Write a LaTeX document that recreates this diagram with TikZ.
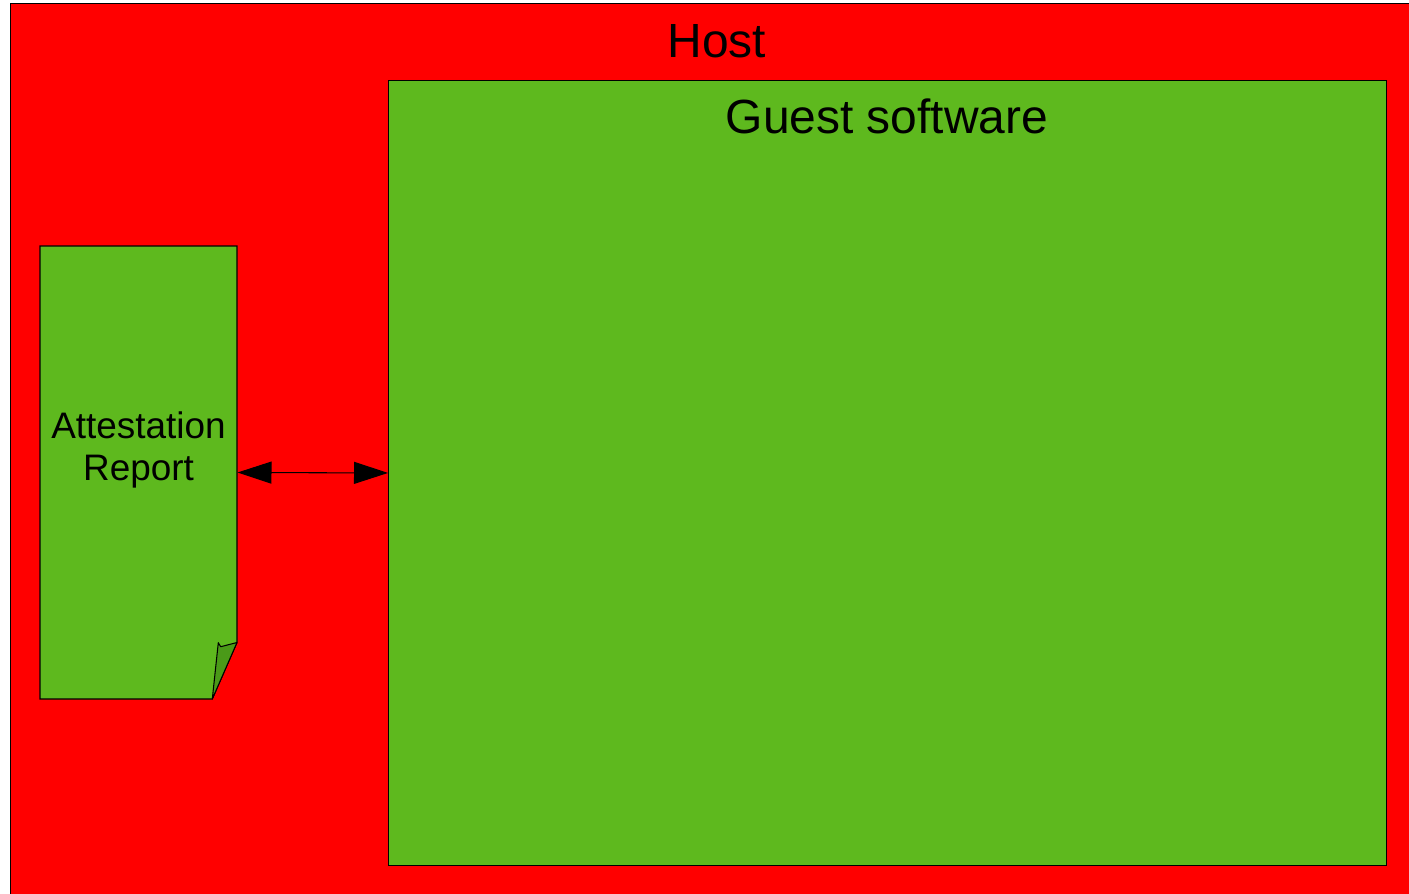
\documentclass[tikz,border=0pt]{standalone}
\usepackage{fontspec}
\setmainfont{Liberation Sans}
\usetikzlibrary{positioning,arrows.meta}

\definecolor{hostred}{HTML}{FF0000}
\definecolor{guestgreen}{HTML}{5EB91E}
\definecolor{flapgreen}{HTML}{4A9A18}

\begin{document}
\begin{tikzpicture}[x=0.02cm,y=-0.02cm,line width=0.6pt,
        box/.style={draw=black, inner sep=0pt, anchor=north west},
        title/.style={font=\fontsize{27.3}{32}\selectfont, inner sep=0pt},
        both/.style={{Triangle[length=0.68cm,width=0.44cm]}-{Triangle[length=0.68cm,width=0.44cm]}, line width=0.6pt}
        ]
        \useasboundingbox (0,0) rectangle (1409,893);
        \clip (0,0) rectangle (1409,893);

        % host and guest
        \node [box, fill=hostred, minimum width=28.4cm, minimum height=18cm] (host) at (9.5,3) {} ;
        \node [title] (hostlabel) at (717,41) {Host} ;
        \node [box, fill=guestgreen, minimum width=19.96cm, minimum height=15.7cm] (guest) at (388,80) {} ;
        \node [title] (guestlabel) at (887,116) {Guest software} ;

        % attestation report (page with folded corner)
        \node [inner sep=0pt, minimum width=3.94cm, minimum height=9.06cm] (doc) at (138.5,472.5) {} ;
        \draw [fill=guestgreen] (40,246) -- (237,246) -- (237,642.5) -- (212.3,699) -- (40,699) -- cycle ;
        \draw [fill=flapgreen, line join=round] (237,642.5) -- (220.7,646.7) -- (218.3,642.7) -- (212.3,699) -- cycle ;
        \node [align=center, font=\fontsize{21}{24}\selectfont, inner sep=0pt] (report) at (138.5,450) {Attestation\\Report} ;

        \path[draw, both]
        (doc.east) -- (guest.west)
        ;
\end{tikzpicture}
\end{document}
